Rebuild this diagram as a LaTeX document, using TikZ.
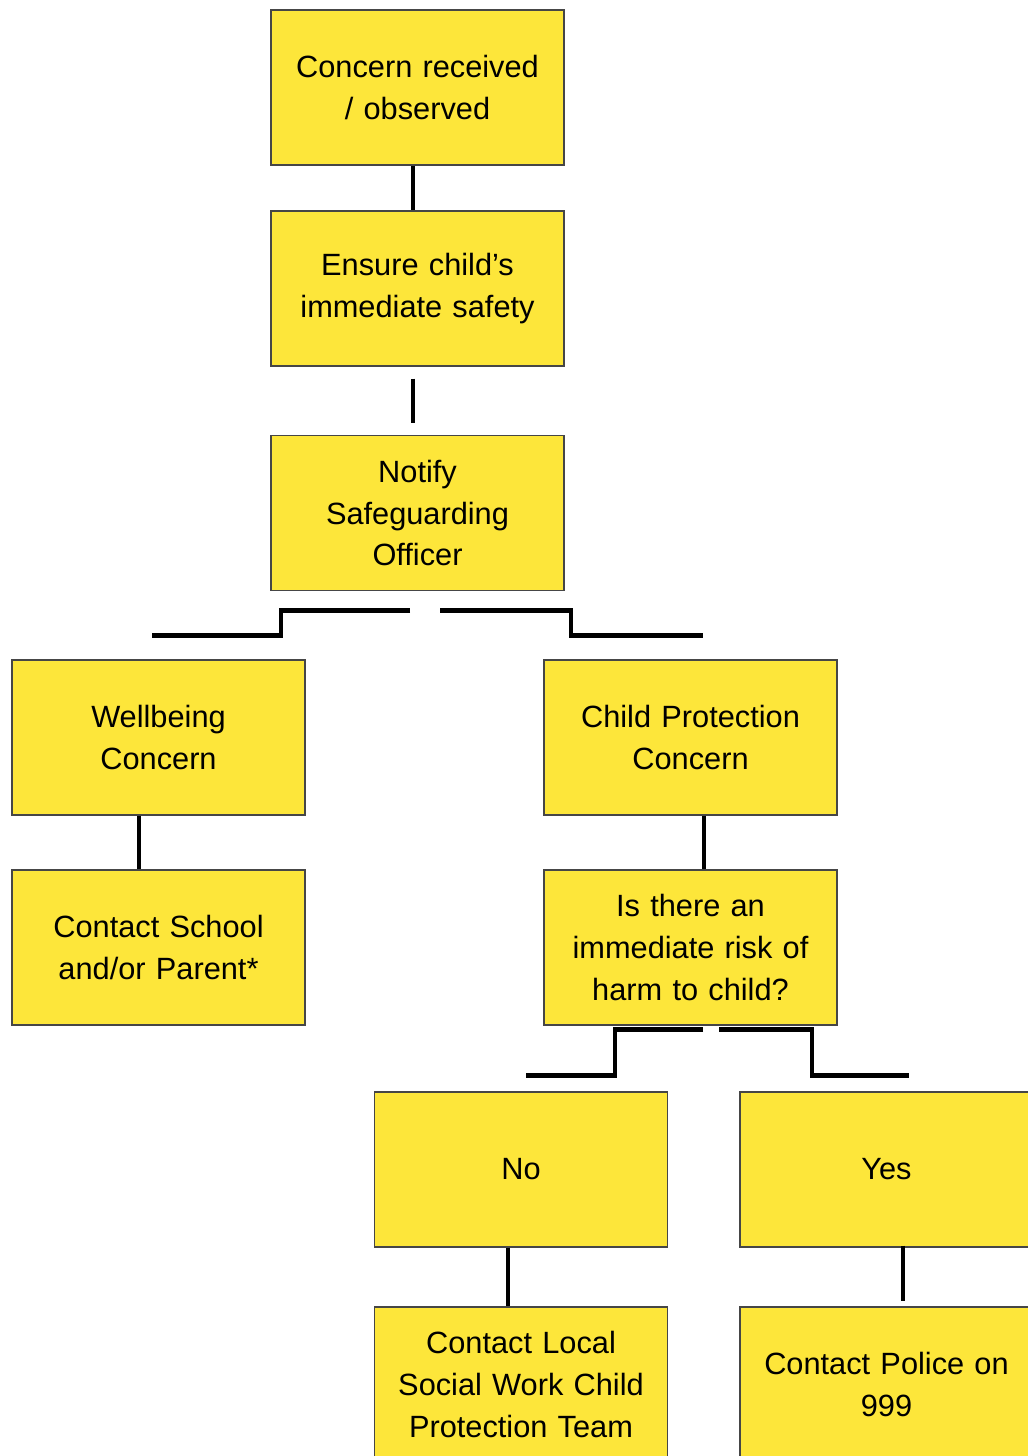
\documentclass[tikz,border=0pt]{standalone}
\usepackage{fontspec}
\setmainfont{Liberation Sans}
\usepackage{xcolor}
\usetikzlibrary{positioning, calc}
\definecolor{boxyellow}{RGB}{253,230,58}
\definecolor{boxedge}{RGB}{70,70,70}

\begin{document}
\begin{tikzpicture}[on grid,
        every node/.style={font=\fontsize{17.5}{23.8}\selectfont},
        box/.style={rectangle,draw=boxedge,fill=boxyellow,line width=0.8pt,
                    minimum width=5.86cm,minimum height=3.1cm,
                    text width=5.4cm,align=center,inner sep=0pt},
        link/.style={line width=2.8pt,black}]

      \useasboundingbox (0,0) rectangle (20.56,-29.12);
      \clip (0,0) rectangle (20.56,-29.12);

      \node[box] (concern)        at (8.35,-1.75)                        {Concern received\\/ observed};
      \node[box] (safety)         [below=4.02cm of concern]              {Ensure child’s\\immediate safety};
      \node[box] (notify)         [below=4.49cm of safety]               {Notify\\Safeguarding\\Officer};
      \node[box] (wellbeing)      [below left=4.49cm and 5.18cm of notify]  {Wellbeing\\Concern};
      \node[box] (cp_concern)     [below right=4.49cm and 5.46cm of notify] {Child Protection\\Concern};
      \node[box] (contact_school) [below=4.2cm of wellbeing]             {Contact School\\and/or Parent*};
      \node[box] (risk)           [below=4.2cm of cp_concern]            {Is there an\\immediate risk of\\harm to child?};
      \node[box] (no)             [below left=4.44cm and 3.39cm of risk]    {No};
      \node[box] (yes)            [below right=4.44cm and 3.92cm of risk]   {Yes};
      \node[box] (social_work)    [below=4.3cm of no]                    {Contact Local\\Social Work Child\\Protection Team};
      \node[box] (police)         [below=4.3cm of yes]                   {Contact Police on\\999};

      % split points
      \coordinate (notify_l) at ($(notify.south)+(-0.15,-0.38)$);
      \coordinate (notify_r) at ($(notify.south)+(0.45,-0.38)$);
      \coordinate (risk_l)   at ($(risk.south)+(0.25,-0.08)$);
      \coordinate (risk_r)   at ($(risk.south)+(0.57,-0.08)$);

      \draw[link] ([xshift=-0.09cm]concern.south) -- ([xshift=-0.09cm]safety.north);
      \draw[link] ([xshift=-0.09cm,yshift=-0.24cm]safety.south) -- ([xshift=-0.09cm,yshift=0.24cm]notify.north);
      \draw[link] (notify_l) -- ++(-2.58,0) |- ++(-2.58,-0.5);
      \draw[link] (notify_r) -- ++(2.62,0) |- ++(2.64,-0.5);
      \draw[link] ([xshift=-0.39cm]wellbeing.south) -- ([xshift=-0.39cm]contact_school.north);
      \draw[link] ([xshift=0.27cm]cp_concern.south) -- ([xshift=0.27cm]risk.north);
      \draw[link] (risk_l) -- ++(-1.76,0) |- ++(-1.78,-0.92);
      \draw[link] (risk_r) -- ++(1.86,0) |- ++(1.94,-0.92);
      \draw[link] ([xshift=-0.26cm]no.south) -- ([xshift=-0.26cm]social_work.north);
      \draw[link] ([xshift=0.33cm,yshift=0.04cm]yes.south) -- ([xshift=0.33cm,yshift=0.1cm]police.north);
\end{tikzpicture}
\end{document}
